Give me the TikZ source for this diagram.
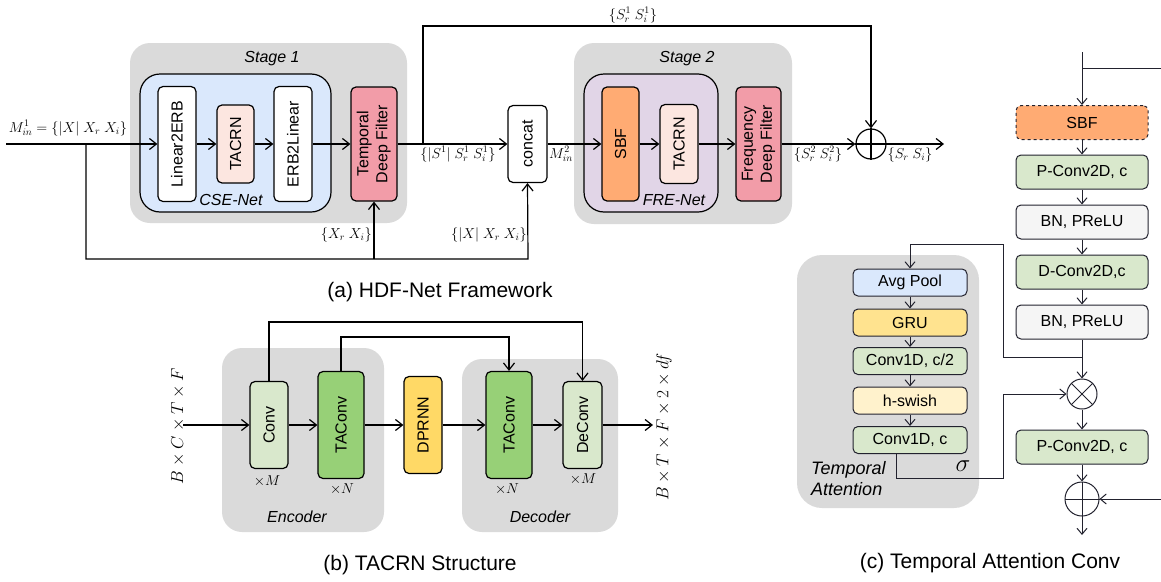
\documentclass[tikz,border=0pt]{standalone}
\usepackage[no-math]{fontspec}
\setmainfont{Liberation Sans}
\usetikzlibrary{arrows.meta,calc}
\definecolor{stagefill}{HTML}{DADADA}
\definecolor{cseblue}{HTML}{DAE8FC}
\definecolor{frepurple}{HTML}{E1D5E7}
\definecolor{tacpink}{HTML}{FCE6E0}
\definecolor{filtred}{HTML}{F29CA8}
\definecolor{sbforange}{HTML}{FFAB73}
\definecolor{lgreen}{HTML}{D9E8CC}
\definecolor{mgreen}{HTML}{97D077}
\definecolor{gold}{HTML}{FFD966}
\definecolor{gru}{HTML}{FFE38F}
\definecolor{hsw}{HTML}{FFF2CC}
\definecolor{bnfill}{HTML}{F5F5F5}
\definecolor{navy}{HTML}{22222E}
\tikzset{
  f16/.style={font=\fontsize{16}{19}\selectfont},
  ln/.style={line width=1.2pt},
  arr/.style={-{Straight Barb[length=7pt,width=11pt]}},
  sarr/.style={-{Straight Barb[length=6pt,width=10pt]}},
  box/.style={draw, line width=1.2pt, rounded corners=5pt, inner sep=0pt, f16},
  cbox/.style={draw=navy, line width=1pt, rounded corners=5pt, inner sep=0pt, f16,
    minimum width=132pt, minimum height=34pt},
  tbox/.style={draw=navy, line width=1pt, rounded corners=5pt, inner sep=0pt, f16,
    minimum width=114pt, minimum height=27pt},
  stage/.style={fill=stagefill, rounded corners=20pt, inner sep=0pt},
  net/.style={draw, line width=1.2pt, rounded corners=20pt, inner sep=0pt},
  mlab/.style={font=\fontsize{14}{16}\selectfont, inner sep=0pt},
  captxt/.style={font=\fontsize{21}{24}\selectfont, inner sep=0pt},
  ital/.style={font=\fontsize{16}{19}\selectfont\itshape, inner sep=0pt},
}
\begin{document}
\begin{tikzpicture}[x=1pt,y=-1pt]
\useasboundingbox (0,0) rectangle (1161,581);

%% ===== (a) HDF-Net Framework =====
\node[stage, minimum width=277pt, minimum height=180pt] (s1) at (268.5,133) {};
\node[ital] (s1t) at (272,59) {Stage 1};
\node[net, fill=cseblue, minimum width=191pt, minimum height=138pt] (cse) at (235.5,143) {};
\node[ital] (cset) at (231,200) {CSE-Net};
\node[box, fill=white, minimum width=38pt, minimum height=115pt] (l2e) at (177,144) {\rotatebox{90}{Linear2ERB}};
\node[box, fill=tacpink, minimum width=37pt, minimum height=78pt] (tac1) at (235.5,144) {\rotatebox{90}{TACRN}};
\node[box, fill=white, minimum width=38pt, minimum height=115pt] (e2l) at (293,144) {\rotatebox{90}{ERB2Linear}};
\node[box, fill=filtred, minimum width=46pt, minimum height=114pt] (tdf) at (374,144)
  {\rotatebox{90}{\begin{tabular}{@{}c@{}}Temporal\\Deep Filter\end{tabular}}};
\node[box, fill=white, minimum width=39pt, minimum height=77pt] (cat) at (527.5,144) {\rotatebox{90}{concat}};

\node[stage, minimum width=218pt, minimum height=181pt] (s2) at (683,133.5) {};
\node[ital] (s2t) at (687,59) {Stage 2};
\node[net, fill=frepurple, minimum width=134pt, minimum height=138pt] (fre) at (651,143) {};
\node[ital] (fret) at (674,200) {FRE-Net};
\node[box, fill=sbforange, minimum width=37pt, minimum height=114pt] (sbf) at (620.5,144) {\rotatebox{90}{SBF}};
\node[box, fill=tacpink, minimum width=38pt, minimum height=79pt] (tac2) at (679,144) {\rotatebox{90}{TACRN}};
\node[box, fill=filtred, minimum width=45pt, minimum height=114pt] (fdf) at (758.5,144)
  {\rotatebox{90}{\begin{tabular}{@{}c@{}}Frequency\\Deep Filter\end{tabular}}};
\node[draw, circle, line width=1.2pt, minimum size=30pt, inner sep=0pt] (op1) at (871,144) {};
\draw[ln] (op1.north) -- (op1.south) (op1.west) -- (op1.east);

\coordinate (in) at (6,144);
\coordinate (b1) at (86,144);
\coordinate (b1d) at (86,259);
\coordinate (b2) at (374,259);
\coordinate (b3) at (528,259);
\coordinate (t1) at (423,144);
\coordinate (t1u) at (423,26);
\coordinate (t2) at (871,26);
\coordinate (out1) at (944,144);

\draw[ln,arr] (in) -- (l2e.west);
\draw[ln,arr] (l2e.east) -- (tac1.west);
\draw[ln,arr] (tac1.east) -- (e2l.west);
\draw[ln,arr] (e2l.east) -- (tdf.west);
\draw[ln,arr] (tdf.east) -- (cat.west);
\draw[ln,arr] (cat.east) -- (sbf.west);
\draw[ln,arr] (sbf.east) -- (tac2.west);
\draw[ln,arr] (tac2.east) -- (fdf.west);
\draw[ln,arr] (fdf.east) -- (op1.west);
\draw[ln,arr] (op1.east) -- (out1);
\draw[ln,arr] (t1) -- (t1u) -- (t2) -- (op1.north);
\draw[ln,arr] (b1) -- (b1d) -- (b3) -- (cat.south);
\draw[ln,arr] (b2) -- (tdf.south);

\node[mlab, anchor=base] (lm1) at (68,132) {$M^1_{in}=\{|X|\ X_r\ X_i\}$};
\node[mlab, anchor=base] (ls1) at (458,158) {$\{|S^1|\ S^1_r\ S^1_i\}$};
\node[mlab, anchor=base] (lm2) at (561,158) {$M^2_{in}$};
\node[mlab, anchor=base] (ls2) at (818,158) {$\{S^2_r\ S^2_i\}$};
\node[mlab, anchor=base] (lso) at (910,158) {$\{S_r\ S_i\}$};
\node[mlab, anchor=base] (ls1t) at (633,19) {$\{S^1_r\ S^1_i\}$};
\node[mlab, anchor=base east] (lx1) at (372,238) {$\{X_r\ X_i\}$};
\node[mlab, anchor=base east] (lx2) at (527,238) {$\{|X|\ X_r\ X_i\}$};
\node[captxt] (capa) at (440,292) {(a) HDF-Net Framework};

%% ===== (b) TACRN Structure =====
\node[stage, minimum width=162pt, minimum height=184pt] (enc) at (303,440) {};
\node[stage, minimum width=156pt, minimum height=173pt] (dec) at (540,445.5) {};
\node[ital] (enct) at (297,517) {Encoder};
\node[ital] (dect) at (540,517) {Decoder};
\node[box, fill=lgreen, minimum width=38pt, minimum height=87pt] (conv) at (269,425) {\rotatebox{90}{Conv}};
\node[box, fill=mgreen, minimum width=46pt, minimum height=107pt] (tc1) at (341,425) {\rotatebox{90}{TAConv}};
\node[box, fill=gold, minimum width=38pt, minimum height=97pt] (dp) at (423,425) {\rotatebox{90}{DPRNN}};
\node[box, fill=mgreen, minimum width=46pt, minimum height=107pt] (tc2) at (509,425) {\rotatebox{90}{TAConv}};
\node[box, fill=lgreen, minimum width=39pt, minimum height=87pt] (dc) at (582.5,425) {\rotatebox{90}{DeConv}};

\coordinate (inb) at (183,425);
\coordinate (outb) at (653,425);
\draw[ln,arr] (inb) -- (conv.west);
\draw[ln,arr] (conv.east) -- (tc1.west);
\draw[ln,arr] (tc1.east) -- (dp.west);
\draw[ln,arr] (dp.east) -- (tc2.west);
\draw[ln,arr] (tc2.east) -- (dc.west);
\draw[ln,arr] (dc.east) -- (outb);
\draw[ln,arr] (conv.north) -- (269,322) -- (582.5,322) -- (dc.north);
\draw[ln,arr] (tc1.north) -- (341,337) -- (509,337) -- (tc2.north);

\node[mlab, anchor=base] (xm1) at (267,485) {$\times M$};
\node[mlab, anchor=base] (xn1) at (342,493) {$\times N$};
\node[mlab, anchor=base] (xn2) at (507,493) {$\times N$};
\node[mlab, anchor=base] (xm2) at (583,483) {$\times M$};
\node[font=\fontsize{18}{20}\selectfont, rotate=90, inner sep=0pt] (lbin) at (178,426) {$B\times C\times T\times F$};
\node[font=\fontsize{18}{20}\selectfont, rotate=90, inner sep=0pt] (lbout) at (664,427) {$B\times T\times F\times 2\times df$};
\node[captxt] (capb) at (420,565) {(b) TACRN Structure};

%% ===== (c) Temporal Attention Conv =====
\node[stage, rounded corners=25pt, minimum width=182pt, minimum height=253pt] (ta) at (888,381.5) {};
\node[cbox, fill=sbforange, dashed] (sbf2) at (1082,122.5) {SBF};
\node[cbox, fill=lgreen] (pc1) at (1082,172) {P-Conv2D, c};
\node[cbox, fill=bnfill] (bn1) at (1082,222) {BN, PReLU};
\node[cbox, fill=lgreen] (dcv) at (1082,272) {D-Conv2D,c};
\node[cbox, fill=bnfill] (bn2) at (1082,322) {BN, PReLU};
\node[draw=navy, circle, line width=1pt, minimum size=30pt, inner sep=0pt] (ot) at (1082,394) {};
\draw[navy, line width=1pt] ($(ot.center)+(-10.6,-10.6)$) -- ($(ot.center)+(10.6,10.6)$)
  ($(ot.center)+(-10.6,10.6)$) -- ($(ot.center)+(10.6,-10.6)$);
\node[cbox, fill=lgreen] (pc2) at (1082,447) {P-Conv2D, c};
\node[draw=navy, circle, line width=1pt, minimum size=34pt, inner sep=0pt] (op2) at (1082,499) {};
\draw[navy, line width=1pt] (op2.north) -- (op2.south) (op2.west) -- (op2.east);

\node[tbox, fill=cseblue] (avg) at (910,282.5) {Avg Pool};
\node[tbox, fill=gru] (gr) at (910,322.5) {GRU};
\node[tbox, fill=lgreen] (c12) at (910,361) {Conv1D, c/2};
\node[tbox, fill=hsw] (hs) at (910,400.5) {h-swish};
\node[tbox, fill=lgreen] (c1) at (910,440) {Conv1D, c};
\node[font=\fontsize{18}{21}\selectfont\itshape, align=left, anchor=north west, inner sep=0pt] (tat) at (811,461)
  {Temporal\\Attention};
\node[font=\fontsize{25}{28}\selectfont, inner sep=0pt] (sig) at (963,466) {$\sigma$};
\node[captxt] (capc) at (990,563) {(c) Temporal Attention Conv};

\coordinate (ctop) at (1082,52);
\coordinate (cbr) at (1082,68);
\coordinate (cbrr) at (1161,68);
\coordinate (fb) at (1082,357);
\coordinate (rin) at (1161,499);
\coordinate (cout) at (1082,535);
\coordinate (sg) at (896,453);
\begin{scope}[navy, line width=1pt]
\draw[sarr] (ctop) -- (sbf2.north);
\draw (cbr) -- (cbrr);
\draw[sarr] (sbf2.south) -- (pc1.north);
\draw[sarr] (pc1.south) -- (bn1.north);
\draw[sarr] (bn1.south) -- (dcv.north);
\draw[sarr] (dcv.south) -- (bn2.north);
\draw[sarr] (bn2.south) -- (ot.north);
\draw[sarr] (ot.south) -- (pc2.north);
\draw[sarr] (pc2.south) -- (op2.north);
\draw[sarr] (op2.south) -- (cout);
\draw[sarr] (rin) -- (op2.east);
\draw[sarr] (fb) -- (1003,357) -- (1003,244) -- (910,244) -- (avg.north);
\draw[sarr] (avg.south) -- (gr.north);
\draw[sarr] (gr.south) -- (c12.north);
\draw[sarr] (c12.south) -- (hs.north);
\draw[sarr] (hs.south) -- (c1.north);
\draw[sarr] (sg) -- (896,478) -- (1003,478) -- (1003,394) -- (ot.west);
\end{scope}
\end{tikzpicture}
\end{document}
